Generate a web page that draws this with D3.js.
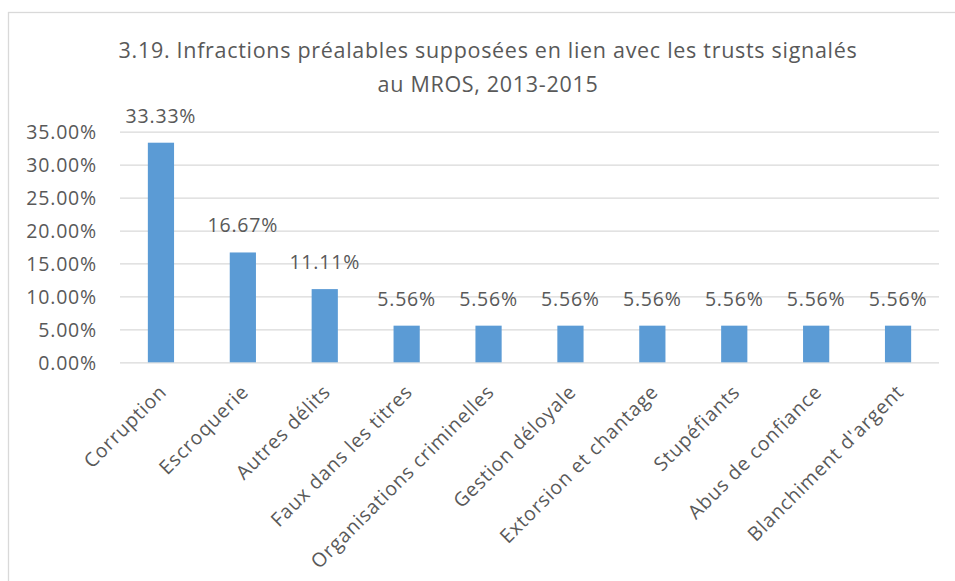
<!DOCTYPE html>
<html>
<head>
<meta charset="utf-8">
<script src="https://cdn.jsdelivr.net/npm/d3@7"></script>
<style>
  html, body { margin: 0; padding: 0; background: #fff; }
  svg { display: block; }
  text { font-family: "Open Sans", sans-serif; fill: #595959; }
</style>
</head>
<body>
<script>
// Infractions préalables supposées — share of MROS trust reports, 2013-2015
const categories = [
  "Corruption", "Escroquerie", "Autres délits", "Faux dans les titres",
  "Organisations criminelles", "Gestion déloyale", "Extorsion et chantage",
  "Stupéfiants", "Abus de confiance", "Blanchiment d'argent"
];
const shares = [33.33, 16.67, 11.11, 5.56, 5.56, 5.56, 5.56, 5.56, 5.56, 5.56];
const yTicks = [0, 5, 10, 15, 20, 25, 30, 35];
const titleLines = [
  "3.19. Infractions préalables supposées en lien avec les trusts signalés",
  "au MROS, 2013-2015"
];

const W = 955, H = 581;
const plot = { left: 120, right: 939, top: 131.7, bottom: 362.3 };
const labelFont = { size: "19.5px", spacing: "0.8px" };

const svg = d3.select("body").append("svg").attr("width", W).attr("height", H);

// chart frame
svg.append("rect")
  .attr("x", 8.5).attr("y", 12.5).attr("width", 980).attr("height", 600)
  .attr("fill", "#fff").attr("stroke", "#d9d9d9").attr("stroke-width", 1.3);

const x = d3.scaleBand().domain(categories).range([plot.left, plot.right]).paddingInner(0.68).paddingOuter(0.34);
const y = d3.scaleLinear().domain([0, 35]).range([plot.bottom, plot.top]);

// title
svg.append("g").selectAll("text").data(titleLines).join("text")
  .attr("x", 488).attr("y", (d, i) => 57.5 + i * 34)
  .attr("text-anchor", "middle")
  .style("font-size", "21.5px")
  .style("letter-spacing", "0.7px")
  .text(d => d);

// y axis with gridlines
const yAxis = d3.axisLeft(y).tickValues(yTicks)
  .tickSize(-(plot.right - plot.left)).tickPadding(23)
  .tickFormat(d => d.toFixed(2) + "%");
const gy = svg.append("g").attr("transform", `translate(${plot.left},0)`).call(yAxis);
gy.select(".domain").remove();
gy.selectAll(".tick line").attr("stroke", "#d9d9d9").attr("stroke-width", 1.3);
gy.selectAll(".tick text")
  .style("font-size", labelFont.size).style("letter-spacing", labelFont.spacing)
  .attr("fill", "#595959").attr("dy", "0.35em");

// bars
svg.append("g").selectAll("rect").data(shares).join("rect")
  .attr("x", (d, i) => x(categories[i]))
  .attr("y", d => y(d))
  .attr("width", x.bandwidth())
  .attr("height", d => y(0) - y(d))
  .attr("fill", "#5b9bd5");

// value labels
svg.append("g").selectAll("text").data(shares).join("text")
  .attr("x", (d, i) => x(categories[i]) + x.bandwidth() / 2)
  .attr("y", d => y(d) - 20)
  .attr("text-anchor", "middle")
  .style("font-size", labelFont.size).style("letter-spacing", labelFont.spacing)
  .text(d => d.toFixed(2) + "%");

// category labels, rotated
const xAxis = d3.axisBottom(x).tickSize(0).tickPadding(0);
const gx = svg.append("g").attr("transform", `translate(0,${plot.bottom})`).call(xAxis);
gx.select(".domain").remove();
gx.selectAll(".tick text")
  .style("font-size", labelFont.size).style("letter-spacing", labelFont.spacing)
  .attr("fill", "#595959")
  .attr("text-anchor", "end")
  .attr("dy", "0.72em")
  .attr("transform", "translate(-3,21) rotate(-45)");
</script>
</body>
</html>
